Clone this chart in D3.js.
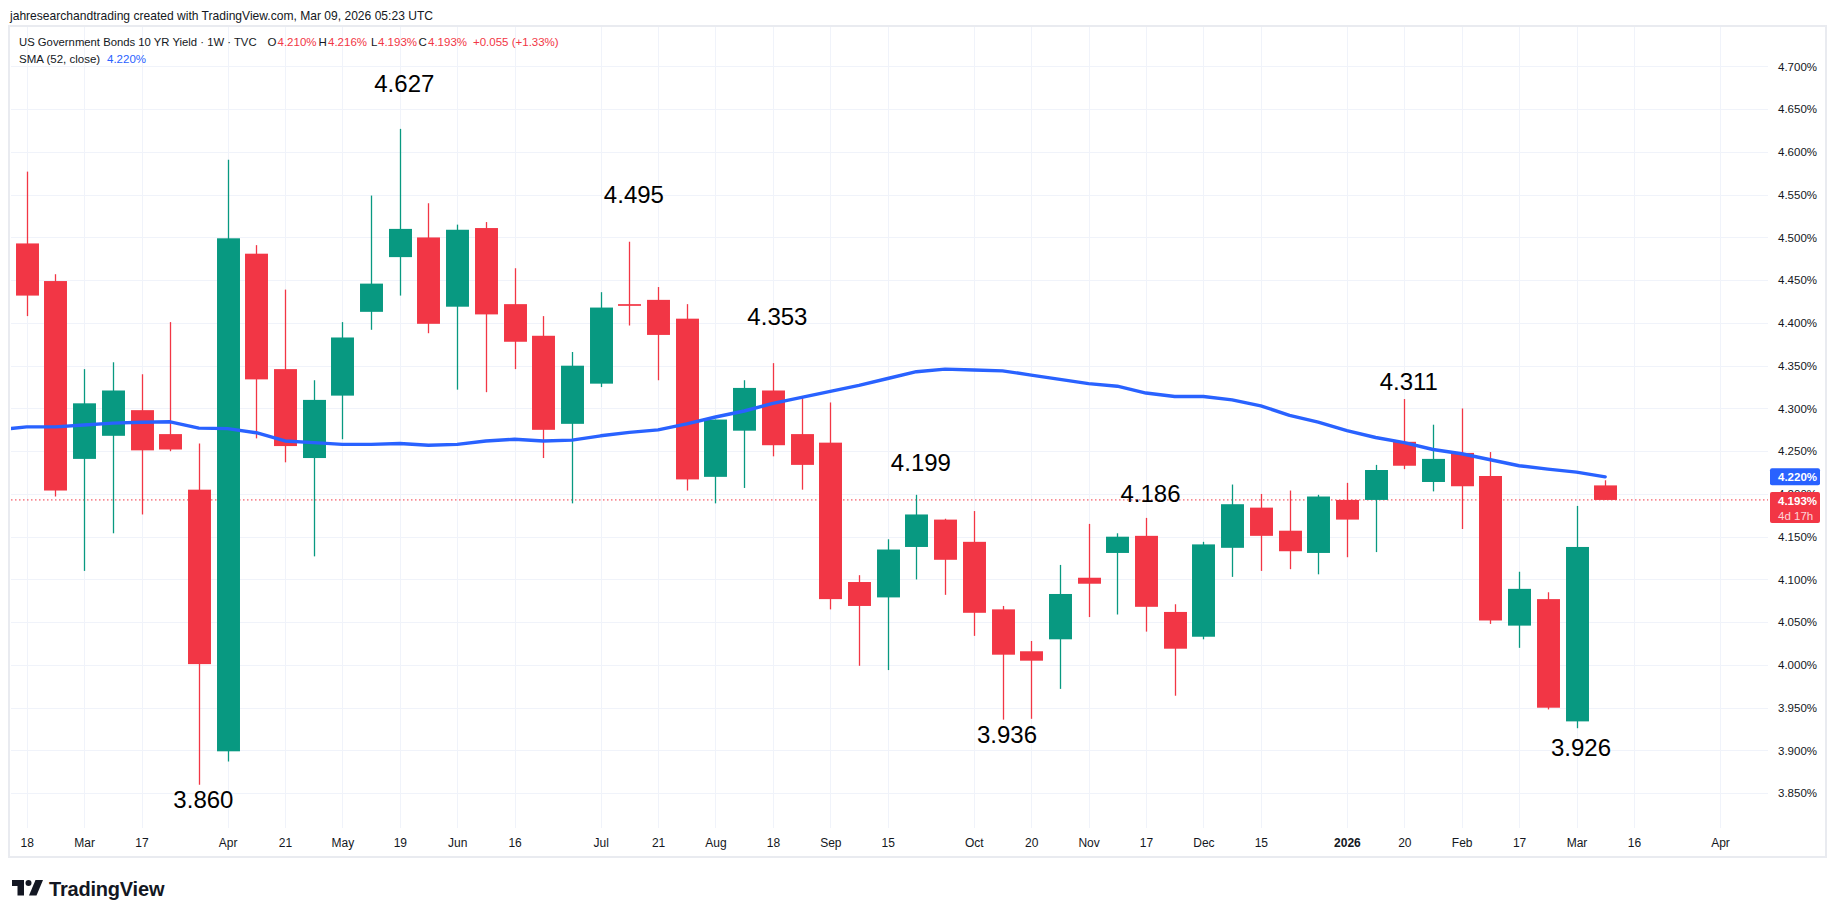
<!DOCTYPE html>
<html><head><meta charset="utf-8">
<script src="https://cdn.jsdelivr.net/npm/d3@7"></script>
<style>
body{margin:0;background:#fff;}
svg text{font-family:"Liberation Sans",Arial,sans-serif;}
</style>
</head><body>
<svg id="c" width="1835" height="917"></svg>
<script>
// ---- data (weekly bars, first trading day of each week) ----
const weeks = ["2025-02-18","2025-02-24","2025-03-03","2025-03-10","2025-03-17","2025-03-24","2025-03-31","2025-04-07","2025-04-14","2025-04-21","2025-04-28","2025-05-05","2025-05-12","2025-05-19","2025-05-27","2025-06-02","2025-06-09","2025-06-16","2025-06-23","2025-06-30","2025-07-07","2025-07-14","2025-07-21","2025-07-28","2025-08-04","2025-08-11","2025-08-18","2025-08-25","2025-09-02","2025-09-08","2025-09-15","2025-09-22","2025-09-29","2025-10-06","2025-10-13","2025-10-20","2025-10-27","2025-11-03","2025-11-10","2025-11-17","2025-11-24","2025-12-01","2025-12-08","2025-12-15","2025-12-22","2025-12-29","2026-01-05","2026-01-12","2026-01-20","2026-01-26","2026-02-02","2026-02-09","2026-02-17","2026-02-23","2026-03-02","2026-03-09"];
const openV  = [4.493,4.449,4.241,4.268,4.298,4.270,4.205,3.899,4.481,4.346,4.242,4.315,4.413,4.477,4.500,4.419,4.511,4.422,4.385,4.282,4.329,4.422,4.427,4.405,4.220,4.274,4.321,4.270,4.260,4.097,4.079,4.138,4.170,4.144,4.065,4.016,4.030,4.102,4.131,4.151,4.062,4.033,4.137,4.184,4.157,4.131,4.193,4.193,4.261,4.214,4.248,4.221,4.046,4.077,3.934,4.210];
const highV  = [4.577,4.457,4.346,4.354,4.340,4.401,4.259,4.591,4.491,4.439,4.333,4.401,4.549,4.627,4.540,4.515,4.518,4.464,4.408,4.366,4.436,4.495,4.442,4.422,4.287,4.333,4.353,4.313,4.307,4.105,4.147,4.199,4.171,4.180,4.069,4.028,4.117,4.165,4.154,4.172,4.071,4.144,4.211,4.200,4.204,4.199,4.213,4.234,4.311,4.281,4.300,4.249,4.109,4.085,4.186,4.216];
const lowV   = [4.408,4.197,4.110,4.154,4.176,4.250,3.860,3.887,4.265,4.237,4.127,4.264,4.392,4.432,4.388,4.322,4.319,4.346,4.242,4.189,4.325,4.397,4.333,4.204,4.189,4.207,4.244,4.205,4.065,3.999,3.994,4.100,4.082,4.034,3.936,3.937,3.972,4.056,4.059,4.039,3.964,4.030,4.103,4.110,4.112,4.106,4.126,4.132,4.229,4.203,4.159,4.048,4.020,3.948,3.926,4.193];
const closeV = [4.432,4.204,4.306,4.321,4.251,4.252,4.001,4.499,4.334,4.256,4.310,4.383,4.446,4.510,4.399,4.509,4.410,4.378,4.275,4.350,4.418,4.420,4.386,4.217,4.287,4.324,4.257,4.234,4.077,4.069,4.135,4.176,4.123,4.061,4.012,4.005,4.083,4.095,4.150,4.068,4.019,4.141,4.188,4.151,4.133,4.197,4.170,4.228,4.233,4.241,4.209,4.052,4.089,3.950,4.138,4.193];
// SMA(52, close); first value belongs to the week before the first bar (2025-02-10)
const smaV = [4.275,4.2785,4.2785,4.2807,4.2828,4.2839,4.2844,4.277,4.2764,4.2716,4.262,4.260,4.258,4.258,4.259,4.257,4.258,4.262,4.264,4.262,4.263,4.268,4.272,4.275,4.282,4.290,4.297,4.306,4.313,4.320,4.327,4.335,4.343,4.346,4.345,4.344,4.339,4.334,4.329,4.326,4.318,4.314,4.314,4.310,4.303,4.292,4.284,4.274,4.266,4.260,4.252,4.247,4.240,4.233,4.229,4.2255,4.220];
const smaFirstIndex = -1;
// time axis tick labels (week index -> label)
const xTickIdx    = [0,2,4,7,9,11,13,15,17,20,22,24,26,28,30,33,35,37,39,41,43,46,48,50,52,54,56,59];
const xTickLabels = ["18","Mar","17","Apr","21","May","19","Jun","16","Jul","21","Aug","18","Sep","15","Oct","20","Nov","17","Dec","15","2026","20","Feb","17","Mar","16","Apr"];
// price scale ticks
const yTicks = [3.85,3.90,3.95,4.00,4.05,4.10,4.15,4.20,4.25,4.30,4.35,4.40,4.45,4.50,4.55,4.60,4.65,4.70];
// text drawings on the chart: anchor week index, anchor price, label
const annoIdx   = [6,13,21,26,31,34,39,48,54];
const annoPrice = [3.8432,4.6795,4.5508,4.407,4.2362,3.9192,4.2005,4.3321,3.9029];
const annoText  = ["3.860","4.627","4.495","4.353","4.199","3.936","4.186","4.311","3.926"];
// legend values
const legendOHLC = [["O","4.210%"],["H","4.216%"],["L","4.193%"],["C","4.193%"]];
const legendChange = "+0.055 (+1.33%)";
const lastPrice = 4.193, lastSma = 4.220;

// ---- layout ----
const UP="#089981", DN="#F23645", BLUE="#2962FF", TXT="#131722", GRID="#f0f3fa";
const P = {left:11, right:1768, top:27, bottom:828};
const svg = d3.select("#c");
const x = d3.scaleLinear().domain([0,55]).range([26.7,1605.2]);
const y = d3.scaleLinear().domain([3.85,4.70]).range([793.2,66.45]);
const step = x(1)-x(0), bw = step*0.8;

svg.append("rect").attr("width",1835).attr("height",917).attr("fill","#fff");
svg.append("defs").append("clipPath").attr("id","clip").append("rect")
  .attr("x",P.left).attr("y",P.top).attr("width",P.right-P.left).attr("height",P.bottom-P.top);

// grid
const grid = svg.append("g").attr("shape-rendering","crispEdges");
grid.selectAll("line.h").data(yTicks).join("line").attr("class","h")
  .attr("x1",P.left).attr("x2",P.right).attr("y1",d=>Math.round(y(d))+0.5).attr("y2",d=>Math.round(y(d))+0.5)
  .attr("stroke",GRID).attr("stroke-width",1);
grid.selectAll("line.v").data(xTickIdx).join("line").attr("class","v")
  .attr("y1",P.top).attr("y2",P.bottom).attr("x1",d=>Math.round(x(d))+0.5).attr("x2",d=>Math.round(x(d))+0.5)
  .attr("stroke",GRID).attr("stroke-width",1);

// frame
svg.append("rect").attr("x",9).attr("y",26).attr("width",1817).attr("height",831)
  .attr("fill","none").attr("stroke","#e9ebf0").attr("stroke-width",2);

const plot = svg.append("g").attr("clip-path","url(#clip)");

// last price dotted line
plot.append("line").attr("x1",P.left).attr("x2",P.right).attr("y1",y(lastPrice)).attr("y2",y(lastPrice))
  .attr("stroke",DN).attr("stroke-width",1).attr("stroke-dasharray","1.5,2.5");

// candles
const bars = weeks.map((w,i)=>({i,o:openV[i],h:highV[i],l:lowV[i],c:closeV[i]}));
const cg = plot.append("g");
cg.selectAll("line.wick").data(bars).join("line").attr("class","wick")
  .attr("x1",d=>Math.round(x(d.i))+0.5).attr("x2",d=>Math.round(x(d.i))+0.5)
  .attr("y1",d=>y(d.h)).attr("y2",d=>y(d.l))
  .attr("stroke",d=>d.c>=d.o?UP:DN).attr("stroke-width",1.3);
cg.selectAll("rect.body").data(bars).join("rect").attr("class","body")
  .attr("x",d=>Math.round(x(d.i))+0.5-bw/2).attr("width",bw)
  .attr("y",d=>y(Math.max(d.o,d.c)))
  .attr("height",d=>Math.max(1.5,Math.abs(y(d.o)-y(d.c))))
  .attr("fill",d=>d.c>=d.o?UP:DN);

// SMA
const smaPts = smaV.map((v,k)=>({i:k+smaFirstIndex,v}));
plot.append("path").datum(smaPts)
  .attr("d",d3.line().x(d=>x(d.i)).y(d=>y(d.v)))
  .attr("fill","none").attr("stroke",BLUE).attr("stroke-width",3.4)
  .attr("stroke-linejoin","round").attr("stroke-linecap","round");

// annotations
svg.append("g").selectAll("text").data(annoText).join("text")
  .attr("x",(d,k)=>x(annoIdx[k])+4.5).attr("y",(d,k)=>y(annoPrice[k]))
  .attr("text-anchor","middle").attr("dominant-baseline","central")
  .attr("font-size",24).attr("fill","#000").text(d=>d);

// price axis
const ya = svg.append("g").attr("transform",`translate(${P.right},0)`)
  .call(d3.axisRight(y).tickValues(yTicks).tickFormat(d=>d.toFixed(3)+"%").tickSize(0).tickPadding(10));
ya.select(".domain").remove();
ya.selectAll("text").attr("font-size",11.5).attr("fill",TXT).attr("font-family","Liberation Sans, Arial, sans-serif");

// time axis
const xa = svg.append("g").attr("transform",`translate(0,${P.bottom})`)
  .call(d3.axisBottom(x).tickValues(xTickIdx).tickFormat((d,k)=>xTickLabels[k]).tickSize(0));
xa.select(".domain").remove();
xa.selectAll("text").attr("y",15).attr("dy","0.35em").attr("font-size",12).attr("fill",TXT)
  .attr("font-family","Liberation Sans, Arial, sans-serif")
  .attr("font-weight",(d,k)=>xTickLabels[k]==="2026"?"bold":"normal");

// price labels on scale
const lb = svg.append("g");
lb.append("rect").attr("x",1770).attr("width",50).attr("y",y(lastSma)-8.5).attr("height",17).attr("rx",2).attr("fill",BLUE);
lb.append("text").attr("x",1778).attr("y",y(lastSma)).attr("dominant-baseline","central")
  .attr("font-size",11.5).attr("font-weight","bold").attr("fill","#fff").text(lastSma.toFixed(3)+"%");
lb.append("rect").attr("x",1770).attr("width",50).attr("y",y(lastPrice)-8).attr("height",31).attr("rx",2).attr("fill",DN);
lb.append("text").attr("x",1778).attr("y",y(lastPrice)+1).attr("dominant-baseline","central")
  .attr("font-size",11.5).attr("font-weight","bold").attr("fill","#fff").text(lastPrice.toFixed(3)+"%");
lb.append("text").attr("x",1778).attr("y",y(lastPrice)+16).attr("dominant-baseline","central")
  .attr("font-size",11.5).attr("fill","#fff").attr("fill-opacity",0.8).text("4d 17h");

// header
svg.append("text").attr("x",10).attr("y",19.5).attr("font-size",13).attr("fill",TXT)
  .attr("textLength",423).attr("lengthAdjust","spacingAndGlyphs")
  .text("jahresearchandtrading created with TradingView.com, Mar 09, 2026 05:23 UTC");

// legend
svg.append("text").attr("x",19).attr("y",46).attr("font-size",11.3).attr("fill",TXT)
  .text("US Government Bonds 10 YR Yield · 1W · TVC");
const ohlcLX = [267.5,318.5,371,418.5], ohlcVX = [277.5,328,378,428];
legendOHLC.forEach((p,k)=>{
  svg.append("text").attr("x",ohlcLX[k]).attr("y",46).attr("font-size",11.5).attr("fill",TXT).text(p[0]);
  svg.append("text").attr("x",ohlcVX[k]).attr("y",46).attr("font-size",11.5).attr("fill",DN).text(p[1]);
});
svg.append("text").attr("x",473).attr("y",46).attr("font-size",11.5).attr("fill",DN).text(legendChange);
svg.append("text").attr("x",19).attr("y",63).attr("font-size",11.5).attr("fill",TXT).text("SMA (52, close)");
svg.append("text").attr("x",107).attr("y",63).attr("font-size",11.5).attr("fill",BLUE).text(lastSma.toFixed(3)+"%");

// TradingView logo
const logo = svg.append("g").attr("transform","translate(12,880)").attr("fill","#131722");
logo.append("path").attr("d","M0,0 H12 V15.5 H5.5 V6 H0 Z");
logo.append("circle").attr("cx",16.5).attr("cy",3).attr("r",3);
logo.append("path").attr("d","M23.5,0 H31 L24.5,15.5 H17 Z");
svg.append("text").attr("x",49).attr("y",895.5).attr("font-size",20).attr("font-weight","bold")
  .attr("fill","#131722").attr("letter-spacing",-0.2).text("TradingView");
</script>
</body></html>
